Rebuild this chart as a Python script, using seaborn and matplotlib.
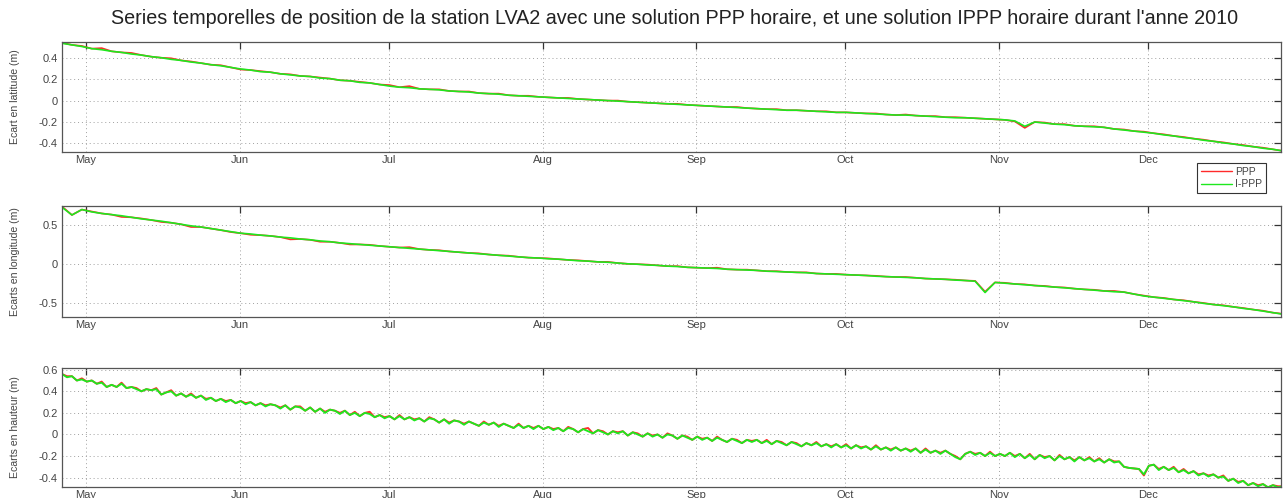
import numpy as np
import pandas as pd
import matplotlib
matplotlib.use("Agg")
import matplotlib.pyplot as plt
from matplotlib.lines import Line2D
from matplotlib.ticker import FuncFormatter
import seaborn as sns

TITLE = ("Series temporelles de position de la station LVA2 avec une solution PPP horaire, "
         "et une solution IPPP horaire durant l'anne 2010")
SOLUTIONS = ["PPP", "I-PPP"]
COLORS = {"PPP": "#ff2a2a", "I-PPP": "#1ee81e"}
MONTH_STARTS = ["2010-05-01", "2010-06-01", "2010-07-01", "2010-08-01",
                "2010-09-01", "2010-10-01", "2010-11-01", "2010-12-01"]
MONTH_LABELS = ["May", "Jun", "Jul", "Aug", "Sep", "Oct", "Nov", "Dec"]
Y_LABELS = ["Ecart en latitude (m)", "Ecarts en longitude (m)", "Ecarts en hauteur (m)"]
FIRST_EPOCH = "2010-04-26 04:00"

# Latitude offsets (cm), one sample every two days
LAT_PPP = [
    54, 52, 51, 48.5, 49, 46, 45, 44.5, 42.5, 41,
    40, 39.5, 37.5, 36.5, 35, 33.5, 33, 31, 29, 28.5,
    27.5, 26.5, 25, 24.5, 23, 22.5, 21.5, 20.5, 19, 18.5,
    17.5, 16.5, 15, 14.5, 12.5, 13.5, 11, 10.5, 10.5, 9,
    8.5, 8.5, 7, 6.5, 6.5, 5, 4.5, 4.5, 3.5, 3,
    2.5, 2.5, 1.5, 1, 0.5, 0, 0, -1, -1.5, -2,
    -2.5, -3, -3, -4, -4.5, -5, -5.5, -6, -6, -7,
    -7.5, -8, -8, -9, -9, -9.5, -10, -10, -11, -11,
    -11.5, -12, -12, -13, -13.5, -13, -14, -14.5, -14.5, -15.5,
    -15.5, -16, -16.5, -17, -17.5, -18, -19.5, -25.5, -20, -20.5,
    -22, -22, -23.5, -24, -24, -25, -26.5, -27, -28.5, -29,
    -30.5, -31.5, -33, -34, -35.5, -36.5, -38, -39, -40.5, -41.5,
    -43, -44, -45.5, -47,
]
LAT_IPPP = [
    53.5, 52, 50.5, 48.5, 47.5, 46, 45, 43.5, 42.5, 41,
    40, 38.5, 37.5, 36, 35, 33.5, 32.5, 31, 29.5, 28.5,
    27, 26.5, 25, 24, 23, 22.5, 21, 20.5, 19, 18.5,
    17, 16.5, 15, 13.5, 12.5, 12, 11, 10.5, 10, 9,
    8.5, 8, 7, 6.5, 6, 5, 4.5, 4, 3.5, 3,
    2.5, 2, 1.5, 1, 0.5, 0, -0.5, -1, -1.5, -2,
    -2.5, -3, -3.5, -4, -4.5, -5, -5.5, -6, -6.5, -7,
    -7.5, -8, -8.5, -9, -9, -9.5, -10, -10.5, -11, -11,
    -11.5, -12, -12.5, -13, -13.5, -13.5, -14, -14.5, -15, -15.5,
    -16, -16, -16.5, -17, -17.5, -18, -19, -24, -20, -21,
    -22, -22.5, -23.5, -24, -24.5, -25, -26.5, -27.5, -28.5, -29.5,
    -30.5, -32, -33, -34.5, -35.5, -37, -38, -39.5, -40.5, -42,
    -43, -44.5, -45.5, -47,
]

# Longitude offsets (cm), one sample every two days
LON_PPP = [
    74, 63, 70, 67.5, 65, 63.5, 60.5, 60, 58.5, 56.5,
    54, 53, 51, 47.5, 47.5, 45.5, 43.5, 41, 39.5, 37.5,
    37, 36, 34.5, 31.5, 32, 31, 28.5, 28.5, 27, 25,
    25, 24.5, 23, 22, 21, 21.5, 19, 18, 17.5, 16,
    15, 14, 13.5, 12, 11, 10.5, 9, 8, 7.5, 7,
    6, 5, 4.5, 3.5, 2.5, 2.5, 1, 0, -0.5, -1,
    -2, -3, -3, -4.5, -5, -5.5, -5, -7, -7.5, -7.5,
    -8.5, -9.5, -9.5, -10.5, -11, -11, -12.5, -13, -13, -14,
    -14.5, -15, -15.5, -16.5, -17, -17, -18, -19, -19.5, -20,
    -20.5, -21.5, -22, -36, -24, -24.5, -26, -26.5, -28, -28.5,
    -30, -30.5, -32, -33, -33.5, -35, -35, -36.5, -39, -41,
    -43, -44, -46, -47, -49, -50.5, -52.5, -53.5, -55.5, -57,
    -59, -60.5, -63, -64.5,
]
LON_IPPP = [
    73, 63, 70, 67, 65, 63.5, 62, 60, 58, 56.5,
    55, 53, 51, 49, 47.5, 45.5, 43.5, 41.5, 39.5, 38.5,
    37, 36, 34.5, 33.5, 32, 31, 29.5, 28.5, 27, 26,
    25, 24, 23, 22, 21, 20, 19, 18, 17, 16,
    15, 14, 13, 12, 11, 10, 9, 8, 7.5, 6.5,
    6, 5, 4, 3.5, 2.5, 2, 1, 0, -0.5, -1.5,
    -2, -3, -3.5, -4.5, -5, -5.5, -6, -7, -7.5, -8,
    -8.5, -9.5, -10, -10.5, -11, -11.5, -12.5, -13, -13.5, -14,
    -14.5, -15, -16, -16.5, -17, -17.5, -18, -19, -19.5, -20,
    -21, -21.5, -22.5, -37, -24, -25, -26, -27, -28, -29,
    -30, -31, -32, -33, -34, -35, -36, -36.5, -39, -41.5,
    -43, -44.5, -46, -47.5, -49, -51, -52.5, -54, -55.5, -57.5,
    -59, -61, -63, -65,
]

# Height offsets (cm), one sample per day
HGT_PPP = [
    56, 54, 54, 50, 52, 49, 50, 47, 49, 44,
    46, 44, 48, 43, 44, 43, 40, 42, 41, 43,
    37, 39, 41, 36, 38, 35, 38, 34, 36, 33,
    34, 31, 33, 31, 32, 29, 31, 29, 30, 27,
    29, 27, 28, 27, 25, 27, 23, 26, 26, 22,
    25, 21, 24, 21, 23, 22, 20, 22, 18, 21,
    17, 20, 21, 16, 18, 16, 17, 14, 18, 14,
    16, 14, 15, 12, 16, 14, 11, 14, 11, 13,
    12, 10, 12, 10, 8, 12, 9, 11, 8, 10,
    8, 6, 10, 6, 8, 6, 8, 5, 7, 5,
    6, 3, 7, 5, 2, 5, 6, 1, 4, 3,
    0, 3, 2, 3, -1, 2, 1, -2, 1, -1,
    0, -3, 1, -1, -4, -1, -2, -5, -2, -4,
    -3, -6, -2, -5, -7, -4, -5, -8, -5, -6,
    -5, -8, -5, -9, -6, -7, -10, -7, -8, -11,
    -8, -10, -7, -11, -9, -11, -9, -12, -9, -13,
    -10, -12, -11, -14, -10, -14, -12, -14, -12, -15,
    -13, -15, -13, -17, -13, -17, -15, -17, -15, -18,
    -20, -23, -18, -16, -18, -17, -20, -16, -20, -18,
    -20, -17, -20, -18, -22, -18, -23, -19, -21, -20,
    -24, -19, -23, -21, -24, -21, -24, -21, -25, -22,
    -26, -23, -25, -25, -30, -31, -31.5, -32, -38, -29,
    -28, -32, -30, -33, -30, -35, -32, -36, -34, -37,
    -36, -38, -37, -40, -38, -43, -41, -44, -43, -47,
    -45, -47, -46, -49, -47, -48, -48,
]
HGT_IPPP = [
    56, 53, 54, 50, 51, 49, 50, 47, 48, 44,
    46, 44, 47, 43, 44, 42, 40, 42, 41, 42,
    37, 39, 40, 36, 38, 35, 37, 34, 36, 32,
    34, 31, 33, 30, 32, 29, 31, 28, 30, 27,
    29, 26, 28, 27, 24, 27, 23, 26, 25, 22,
    25, 21, 24, 20, 23, 22, 19, 22, 18, 20,
    17, 20, 19, 16, 18, 15, 17, 14, 17, 14,
    16, 13, 15, 12, 15, 14, 11, 14, 10, 13,
    12, 9, 12, 10, 8, 11, 9, 11, 7, 10,
    8, 6, 9, 6, 8, 5, 8, 5, 7, 4,
    6, 3, 6, 5, 2, 5, 3, 1, 4, 2,
    0, 3, 1, 3, -1, 2, 0, -2, 1, -2,
    0, -3, 0, -1, -4, -1, -3, -5, -2, -5,
    -3, -6, -3, -5, -7, -4, -6, -8, -5, -7,
    -5, -8, -6, -9, -6, -8, -10, -7, -9, -11,
    -8, -10, -8, -11, -9, -12, -9, -12, -10, -13,
    -10, -13, -11, -14, -11, -14, -12, -15, -12, -15,
    -13, -16, -13, -17, -14, -17, -15, -18, -15, -18,
    -21, -23, -18, -16, -19, -17, -20, -17, -20, -18,
    -20, -17, -21, -18, -22, -19, -23, -19, -22, -20,
    -24, -20, -23, -21, -25, -21, -24, -22, -25, -23,
    -26, -23, -26, -25, -30, -31, -31.5, -32, -37, -29,
    -28, -33, -30, -33, -31, -35, -33, -36, -34, -38,
    -36, -39, -37, -40, -39, -43, -41, -45, -43, -47,
    -45, -48, -46, -49, -47, -49, -48,
]

PANELS = [
    dict(ppp=LAT_PPP, ippp=LAT_IPPP, step="2D", ylim=(-0.48, 0.547), lw=1.2,
         yticks=[-0.4, -0.2, 0, 0.2, 0.4], rect=[62, 42, 1281, 152]),
    dict(ppp=LON_PPP, ippp=LON_IPPP, step="2D", ylim=(-0.686, 0.746), lw=1.2,
         yticks=[-0.5, 0, 0.5], rect=[62, 206, 1281, 317]),
    dict(ppp=HGT_PPP, ippp=HGT_IPPP, step="D", ylim=(-0.487, 0.616), lw=1.35,
         yticks=[-0.4, -0.2, 0, 0.2, 0.4, 0.6], rect=[62, 368, 1281, 487]),
]

W, H = 1283, 498
X_RANGE = (pd.Timestamp("2010-04-26 04:00"), pd.Timestamp("2010-12-27 19:00"))

sns.set_theme(style="white")
plt.rcParams["font.family"] = ["Liberation Sans", "DejaVu Sans"]
plt.rcParams["axes.unicode_minus"] = False

fig = plt.figure(figsize=(W / 100, H / 100), dpi=100)
fig.patch.set_facecolor("white")

month_ticks = pd.to_datetime(MONTH_STARTS)

for panel, ylabel in zip(PANELS, Y_LABELS):
    x0, y0, x1, y1 = panel["rect"]
    ax = fig.add_axes([x0 / W, 1 - y1 / H, (x1 - x0) / W, (y1 - y0) / H])

    frames = []
    for name, values in zip(SOLUTIONS, [panel["ppp"], panel["ippp"]]):
        dates = pd.date_range(FIRST_EPOCH, periods=len(values), freq=panel["step"])
        frames.append(pd.DataFrame({"date": dates,
                                    "offset": np.asarray(values, dtype=float) / 100.0,
                                    "solution": name}))
    df = pd.concat(frames, ignore_index=True)

    sns.lineplot(data=df, x="date", y="offset", hue="solution", hue_order=SOLUTIONS,
                 palette=COLORS, estimator=None, linewidth=panel["lw"], legend=False, ax=ax)

    ax.set_xlim(*X_RANGE)
    ax.set_ylim(*panel["ylim"])
    ax.set_xticks(month_ticks)
    ax.set_xticklabels(MONTH_LABELS)
    ax.set_yticks(panel["yticks"])
    ax.yaxis.set_major_formatter(FuncFormatter(lambda v, p: f"{v:g}"))
    ax.set_xlabel("")
    ax.set_ylabel("")

    ax.grid(True, linestyle=(0, (1, 3)), color="#a0a0a0", linewidth=0.7)
    ax.tick_params(direction="in", top=True, right=True, length=5, width=0.9,
                   color="#333333", labelsize=8, labelcolor="#444444")
    ax.tick_params(axis="x", pad=2.5)
    ax.tick_params(axis="y", pad=3)
    for sp in ax.spines.values():
        sp.set_visible(True)
        sp.set_color("#555555")
        sp.set_linewidth(0.9)

    fig.text(15 / W, 1 - (y0 + y1) / 2 / H, ylabel, rotation=90,
             ha="center", va="center", fontsize=7.6, color="#444444")

fig.text((62 + 1281) / 2 / W + 0.002, 1 - 19 / H, TITLE, ha="center", va="center",
         fontsize=14.2, color="#222222")

handles = [Line2D([], [], color=COLORS[s], linewidth=1.0) for s in SOLUTIONS]
leg = fig.legend(handles, SOLUTIONS, loc="upper left",
                 bbox_to_anchor=(1197 / W, 1 - 163 / H), fontsize=7.5,
                 frameon=True, fancybox=False, edgecolor="#333333", framealpha=1,
                 handlelength=3.0, handletextpad=0.3, borderpad=0.35,
                 labelspacing=0.25, borderaxespad=0)
leg.get_frame().set_linewidth(0.8)
for t in leg.get_texts():
    t.set_color("#444444")

fig.savefig("out.png", dpi=100, facecolor="white")
